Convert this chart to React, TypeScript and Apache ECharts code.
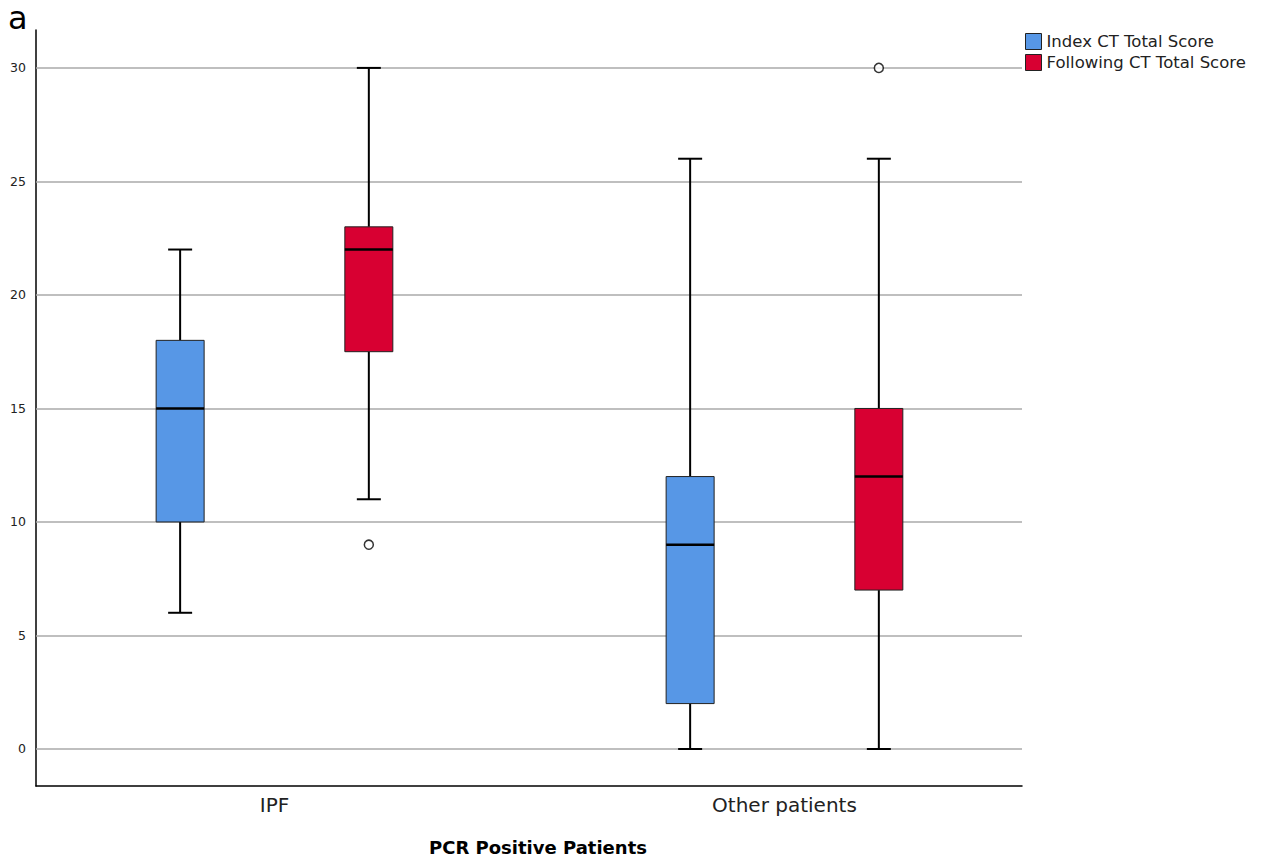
import React, { useEffect, useRef } from "react";
import * as echarts from "echarts";

const categories = ["IPF", "Other patients"];
const seriesNames = ["Index CT Total Score", "Following CT Total Score"];
// [min, Q1, median, Q3, max] per category
const indexStats = [
  [6, 10, 15, 18, 22],
  [0, 2, 9, 12, 26],
];
const followingStats = [
  [11, 17.5, 22, 23, 30],
  [0, 7, 12, 15, 26],
];
// [category index, value]
const indexOutliers: number[][] = [];
const followingOutliers = [
  [0, 9],
  [1, 30],
];
const yTicks = [0, 5, 10, 15, 20, 25, 30];
const colors = ["#5797E6", "#D80032"];

const OFFSET = 0.185;
const FONT = "'DejaVu Sans', 'Liberation Sans', Arial, sans-serif";

function boxData(stats: number[][], off: number) {
  return stats.map((s, i) => [i + 1 + off, ...s]);
}

function makeRender(color: string) {
  return (params: any, api: any) => {
    const x = api.value(0);
    const pMin = api.coord([x, api.value(1)]);
    const pQ1 = api.coord([x, api.value(2)]);
    const pMed = api.coord([x, api.value(3)]);
    const pQ3 = api.coord([x, api.value(4)]);
    const pMax = api.coord([x, api.value(5)]);
    const cx = pMed[0];
    const hw = 24;
    const cap = 12;
    const lineStyle = { stroke: "#000", lineWidth: 2 };
    return {
      type: "group",
      children: [
        { type: "line", shape: { x1: cx, y1: pMax[1], x2: cx, y2: pQ3[1] }, style: lineStyle },
        { type: "line", shape: { x1: cx, y1: pQ1[1], x2: cx, y2: pMin[1] }, style: lineStyle },
        { type: "line", shape: { x1: cx - cap, y1: pMax[1], x2: cx + cap, y2: pMax[1] }, style: lineStyle },
        { type: "line", shape: { x1: cx - cap, y1: pMin[1], x2: cx + cap, y2: pMin[1] }, style: lineStyle },
        {
          type: "rect",
          shape: { x: cx - hw, y: pQ3[1], width: hw * 2, height: pQ1[1] - pQ3[1] },
          style: { fill: color, stroke: "#222", lineWidth: 1 },
        },
        { type: "line", shape: { x1: cx - hw, y1: pMed[1], x2: cx + hw, y2: pMed[1] }, style: { stroke: "#000", lineWidth: 2.5 } },
      ],
    };
  };
}

export default function App() {
  const ref = useRef<HTMLDivElement>(null);
  useEffect(() => {
    if (!ref.current) return;
    const chart = echarts.init(ref.current, null, { renderer: "svg" });
    chart.setOption({
      animation: false,
      backgroundColor: "#fff",
      textStyle: { fontFamily: FONT },
      grid: { left: 36, top: 30, right: 242, bottom: 76, containLabel: false },
      legend: {
        orient: "vertical",
        left: 1025,
        top: 33,
        padding: 0,
        itemGap: 4,
        itemWidth: 16,
        itemHeight: 16,
        icon: "rect",
        textStyle: { fontSize: 16.5, color: "#222", fontFamily: FONT },
        data: seriesNames.map((n, i) => ({
          name: n,
          itemStyle: { color: colors[i], borderColor: "#222", borderWidth: 1 },
        })),
      },
      xAxis: {
        type: "value",
        min: 0.5324,
        max: 2.4657,
        axisLine: { show: true, onZero: false, lineStyle: { color: "#000", width: 1.5 } },
        axisTick: { show: false },
        splitLine: { show: false },
        axisLabel: {
          customValues: [1, 2],
          formatter: (v: number) => categories[Math.round(v) - 1] || "",
          fontSize: 20,
          color: "#222",
          margin: 9,
          fontFamily: FONT,
        },
      },
      yAxis: {
        type: "value",
        min: -1.63,
        max: 31.67,
        axisLine: { show: true, onZero: false, lineStyle: { color: "#000", width: 1.5 } },
        axisTick: { show: false },
        splitLine: { show: false },
        axisLabel: {
          customValues: yTicks,
          fontSize: 12.5,
          color: "#222",
          margin: 10,
          fontFamily: FONT,
        },
      },
      graphic: [
        {
          type: "text",
          left: 8,
          top: 2,
          style: { text: "a", fontSize: 32, fill: "#000", fontFamily: FONT },
        },
        {
          type: "text",
          x: 538,
          y: 847,
          style: {
            text: "PCR Positive Patients",
            fontSize: 18,
            fontWeight: "bold",
            fill: "#000",
            align: "center",
            verticalAlign: "middle",
            fontFamily: FONT,
          },
        },
      ],
      series: [
        {
          name: seriesNames[0],
          type: "custom",
          renderItem: makeRender(colors[0]),
          itemStyle: { color: colors[0] },
          data: boxData(indexStats, -OFFSET),
          encode: { x: 0, y: [1, 2, 3, 4, 5] },
          z: 3,
          markLine: {
            silent: true,
            symbol: "none",
            label: { show: false },
            lineStyle: { color: "#aaaaaa", width: 1.5, type: "solid" },
            data: yTicks.map((v) => ({ yAxis: v })),
            z: 1,
          },
        },
        {
          name: seriesNames[1],
          type: "custom",
          renderItem: makeRender(colors[1]),
          itemStyle: { color: colors[1] },
          data: boxData(followingStats, OFFSET),
          encode: { x: 0, y: [1, 2, 3, 4, 5] },
          z: 3,
        },
        {
          name: "outliers",
          type: "scatter",
          symbol: "circle",
          symbolSize: 9,
          itemStyle: { color: "#fff", borderColor: "#000", borderWidth: 1.5 },
          data: [
            ...indexOutliers.map((o) => [o[0] + 1 - OFFSET, o[1]]),
            ...followingOutliers.map((o) => [o[0] + 1 + OFFSET, o[1]]),
          ],
          z: 4,
        },
      ],
    });
    return () => chart.dispose();
  }, []);
  return <div ref={ref} style={{ width: 1264, height: 862, position: "absolute", left: 0, top: 0 }} />;
}
